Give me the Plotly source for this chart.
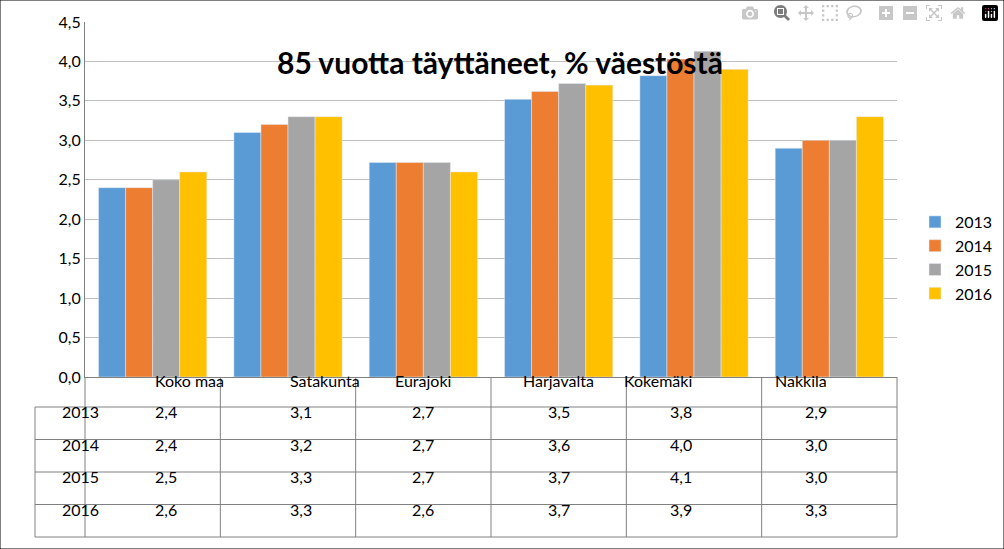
import plotly.graph_objects as go

categories = ["Koko maa", "Satakunta", "Eurajoki", "Harjavalta", "Kokemäki", "Nakkila"]
years = ["2013", "2014", "2015", "2016"]
v2013 = [2.4, 3.1, 2.72, 3.52, 3.82, 2.9]
v2014 = [2.4, 3.2, 2.72, 3.62, 4.03, 3.0]
v2015 = [2.5, 3.3, 2.72, 3.72, 4.13, 3.0]
v2016 = [2.6, 3.3, 2.6, 3.7, 3.9, 3.3]
series = [v2013, v2014, v2015, v2016]
colors = ["#5B9BD5", "#ED7D31", "#A5A5A5", "#FFC000"]

W, H = 1004, 549
X0, X1, YT, YB = 85, 897, 22, 377
TL = 35
rows = [407, 439.5, 472, 504.5, 537]

fig = go.Figure()
for y, s, c in zip(years, series, colors):
    fig.add_bar(x=categories, y=s, name=y, marker_color=c)

def px(x): return x / W
def py(y): return 1 - y / H

shapes, ann = [], []
line = dict(color="#808080", width=1)
shapes.append(dict(type="rect", xref="paper", yref="paper", x0=0, x1=1, y0=0, y1=1, line=dict(color="black", width=1)))
ncat = len(categories)
cw = (X1 - X0) / ncat
for i in range(ncat + 1):
    x = X0 + i * cw
    shapes.append(dict(type="line", xref="paper", yref="paper", x0=px(x), x1=px(x), y0=py(YB), y1=py(rows[-1]), line=line))
shapes.append(dict(type="line", xref="paper", yref="paper", x0=px(TL), x1=px(TL), y0=py(rows[0]), y1=py(rows[-1]), line=line))
for r in rows:
    shapes.append(dict(type="line", xref="paper", yref="paper", x0=px(TL), x1=px(X1), y0=py(r), y1=py(r), line=line))
for i, cat in enumerate(categories):
    ann.append(dict(x=px(X0 + (i + .5) * cw), y=py((YB + rows[0]) / 2), text=cat, showarrow=False, xref="paper", yref="paper", font=dict(size=16)))
for j, (y, s) in enumerate(zip(years, series)):
    ym = py((rows[j] + rows[j + 1]) / 2)
    ann.append(dict(x=px((TL + X0) / 2), y=ym, text=y, showarrow=False, xref="paper", yref="paper", font=dict(size=16)))
    for i, v in enumerate(s):
        ann.append(dict(x=px(X0 + (i + .5) * cw), y=ym, text=f"{v:.1f}".replace(".", ","), showarrow=False, xref="paper", yref="paper", font=dict(size=16)))
ann.append(dict(x=px(500), y=py(42), text="<b>85 vuotta täyttäneet, % väestöstä</b>", showarrow=False, xref="paper", yref="paper", font=dict(size=30)))

fig.update_layout(
    width=W, height=H, margin=dict(l=0, r=0, t=0, b=0, autoexpand=False),
    paper_bgcolor="white", plot_bgcolor="white",
    font=dict(family="Lato, Open Sans, sans-serif", color="black", size=16),
    separators=", ", barmode="group", bargap=0.2, bargroupgap=0,
    xaxis=dict(domain=[px(X0), px(X1)], showticklabels=False, showline=True, linecolor="#808080", ticks="", automargin=False),
    yaxis=dict(domain=[py(YB), py(YT)], range=[0, 4.5], dtick=0.5, tickformat=".1f", automargin=False,
               showgrid=True, gridcolor="#C0C0C0", showline=True, linecolor="#808080", ticks=""),
    legend=dict(x=px(915), y=py(205), xanchor="left", yanchor="top", tracegroupgap=0, font=dict(size=16)),
    shapes=shapes, annotations=ann,
)
fig.write_html("out.html", post_script="document.body.style.margin='0';document.body.style.overflow='hidden';")
